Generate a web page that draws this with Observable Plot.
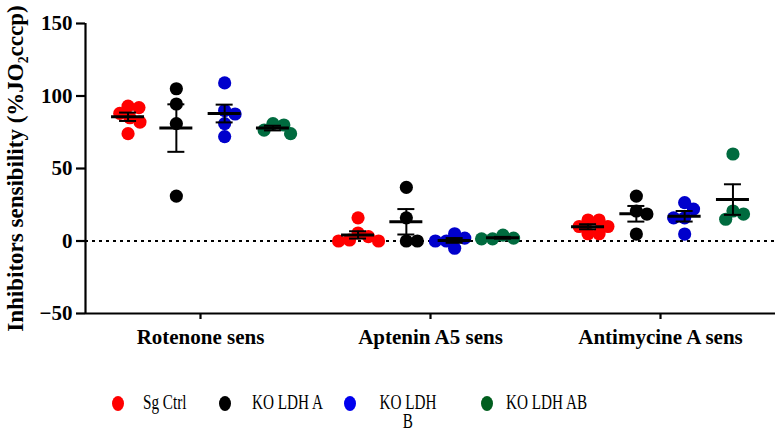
<!DOCTYPE html>
<html>
<head>
<meta charset="utf-8">
<script src="https://cdn.jsdelivr.net/npm/d3@7"></script>
<script src="https://cdn.jsdelivr.net/npm/@observablehq/plot@0.6"></script>
<style>
  body { margin: 0; background: #fff; }
  #wrap { position: relative; width: 777px; height: 431px; overflow: hidden; }
  .lg-dot { position: absolute; width: 12px; height: 15px; border-radius: 50%; }
  .lg-txt { position: absolute; font-family: "Liberation Serif", serif; font-size: 20px; line-height: 19px;
            transform: scaleX(0.76); transform-origin: 0 0; color: #000; white-space: normal; }
</style>
</head>
<body>
<div id="wrap"></div>
<script>
// ---- data ----
const groups = ["Rotenone sens", "Aptenin A5 sens", "Antimycine A sens"];
const series = ["Sg Ctrl", "KO LDH A", "KO LDH B", "KO LDH AB"];
const pointColors = ["#ff0000", "#000000", "#0000cc", "#006b3f"];
const legendColors = ["#ff0000", "#000000", "#0000ee", "#005e1e"];
const yTicks = [-50, 0, 50, 100, 150];
const yLabel = "Inhibitors sensibility (%JO₂cccp)";
// values per group: [Rotenone, Aptenin A5, Antimycine A]
const sgCtrl  = [[93, 92, 88, 85, 82, 74], [16, 5.5, 3, 0.7, 0, 0], [14.5, 14.5, 10, 10, 5, 5]];
const koLdhA  = [[105, 94.5, 81, 31], [37, 16, 0, 0], [31, 20.7, 18.6, 4.8]];
const koLdhB  = [[109, 90, 87.6, 81, 72], [5, 2, 0, 0, -5], [26.5, 22, 16, 16, 4.8]];
const koLdhAB = [[81, 80, 76.5, 74], [4, 2, 1.5, 1.5], [60, 20.7, 18.6, 15]];
const allSeries = [sgCtrl, koLdhA, koLdhB, koLdhAB];

// ---- layout constants ----
const W = 777, H = 360, mL = 85, mR = 2, mT = 23, mB = 47;
const pxPerX = (W - mL - mR) / 3;          // px per x unit
const pxPerY = (H - mT - mB) / 200;        // px per y unit
const D = 11;                              // dodge diameter in px
const seriesOffset = 0.21;                 // spacing between series inside a group (x units)

// simple beeswarm dodge, in pixel space
function dodge(values) {
  const placed = [];
  return values.map(v => {
    const y = v * pxPerY;
    const cands = [0];
    for (const p of placed) {
      const dy = y - p.y;
      if (Math.abs(dy) < D) {
        const dx = Math.sqrt(D * D - dy * dy);
        cands.push(p.x + dx, p.x - dx);
      }
    }
    cands.sort((a, b) => Math.abs(a) - Math.abs(b));
    let x = cands.find(c => placed.every(p => Math.hypot(p.x - c, p.y - y) >= D - 1e-6));
    if (x === undefined) x = 0;
    placed.push({x, y});
    return x;
  });
}

const rows = [], stats = [];
allSeries.forEach((byGroup, si) => {
  byGroup.forEach((vals, gi) => {
    const xc = gi + 0.5 + (si - 1.5) * seriesOffset;
    const offs = dodge(vals);
    vals.forEach((v, k) => rows.push({series: series[si], group: groups[gi], value: v, x: xc + offs[k] / pxPerX}));
    const m = d3.mean(vals), sem = d3.deviation(vals) / Math.sqrt(vals.length);
    stats.push({series: series[si], xc, mean: m, lo: m - sem, hi: m + sem});
  });
});

const half = 16.5 / pxPerX, cap = 8.5 / pxPerX;

const chart = Plot.plot({
  width: W, height: H,
  marginLeft: mL, marginRight: mR, marginTop: mT, marginBottom: mB,
  style: {fontFamily: "Liberation Serif, serif", fontSize: "21px", fontWeight: "bold", color: "#000", background: "#fff"},
  x: {domain: [0, 3], axis: null},
  y: {domain: [-50, 150], axis: null},
  color: {domain: series, range: pointColors},
  marks: [
    Plot.ruleY([0], {strokeDasharray: "3,4", strokeWidth: 2.2, stroke: "#000"}),
    Plot.dot(rows, {x: "x", y: "value", r: 6.6, fill: "series", stroke: null}),
    Plot.ruleX(stats, {x: "xc", y1: "lo", y2: "hi", strokeWidth: 2, stroke: "#000"}),
    Plot.ruleY(stats, {y: "lo", x1: d => d.xc - cap, x2: d => d.xc + cap, strokeWidth: 2, stroke: "#000"}),
    Plot.ruleY(stats, {y: "hi", x1: d => d.xc - cap, x2: d => d.xc + cap, strokeWidth: 2, stroke: "#000"}),
    Plot.ruleY(stats, {y: "mean", x1: d => d.xc - half, x2: d => d.xc + half, strokeWidth: 3, stroke: "#000"}),
    Plot.ruleX([0], {y1: -50, y2: 150, strokeWidth: 2.2, stroke: "#000"}),
    Plot.ruleY([-50], {strokeWidth: 2.2, stroke: "#000"}),
    Plot.axisY({ticks: yTicks, tickSize: 9, tickPadding: 4, strokeWidth: 2.2, label: null}),
    Plot.text([yLabel], {frameAnchor: "left", textAnchor: "middle", lineAnchor: "middle", rotate: -90, dx: -70,
                         fontSize: 23, fontWeight: "bold", fill: "#000"}),
    Plot.axisX({ticks: [0.5, 1.5, 2.5], tickFormat: d => groups[Math.floor(d)], tickSize: 6, tickPadding: 10,
                strokeWidth: 2.2, label: null})
  ]
});

const wrap = document.getElementById("wrap");
wrap.appendChild(chart);

// ---- legend ----
const dotX = [118, 225, 350, 487];
const txtX = [143, 252, 376, 506];
const txtW = [90, 120, 84, 140];
series.forEach((s, i) => {
  const dot = document.createElement("div");
  dot.className = "lg-dot";
  dot.style.left = (dotX[i] - 6) + "px";
  dot.style.top = (403 - 7.5) + "px";
  dot.style.background = legendColors[i];
  wrap.appendChild(dot);
  const t = document.createElement("div");
  t.className = "lg-txt";
  t.textContent = s;
  t.style.left = txtX[i] + "px";
  t.style.top = "393px";
  t.style.width = txtW[i] + "px";
  if (i === 2) t.style.textAlign = "center";
  wrap.appendChild(t);
});
</script>
</body>
</html>
